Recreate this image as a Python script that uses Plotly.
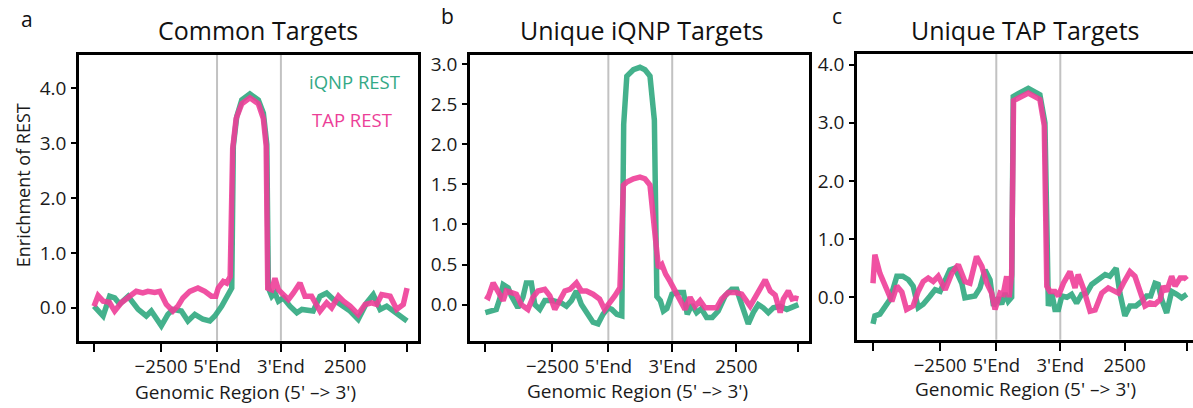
import plotly.graph_objects as go

W, H = 1193, 408

# ---------------- data ----------------
tick_vals = [0, 21.4, 39.3, 59.7, 80.2, 100]
tick_text = ["", "−2500", "5'End", "3'End", "2500", ""]
gene_bounds = [39.3, 59.7]
series_names = ["iQNP REST", "TAP REST"]
panel_titles = ["Common Targets", "Unique iQNP Targets", "Unique TAP Targets"]
panel_letters = ["a", "b", "c"]
x_title = "Genomic Region (5' –> 3')"
y_title = "Enrichment of REST"

a_x_iqnp = [0, 2.9, 5.0, 6.6, 8.2, 10.9, 14.1, 16.7, 18.3, 21.5, 23.6, 25.2, 27.9, 30.0, 32.2, 34.8,
            37.0, 38.6, 40.8, 42.4, 44.0, 44.5, 45.6, 47.2, 49.8, 52.5, 54.1, 55.2, 55.7, 56.8, 57.8,
            58.9, 60.5, 62.6, 64.8, 66.4, 68.5, 70.0, 72.2, 74.3, 76.5, 79.1, 81.8, 84.4, 87.1, 89.2,
            91.4, 93.5, 95.6, 97.8, 100]
a_y_iqnp = [0.03, -0.15, 0.21, 0.18, 0.07, 0.21, -0.03, -0.15, -0.06, -0.33, -0.12, -0.03, -0.06, -0.24,
            -0.12, -0.21, -0.24, -0.15, 0.03, 0.21, 0.36, 2.95, 3.49, 3.79, 3.9, 3.79, 3.55, 2.98, 0.36,
            0.21, 0.27, 0.12, 0.18, 0.03, -0.09, -0.03, -0.06, -0.06, 0.21, 0.27, 0.15, 0.06, -0.06,
            -0.21, 0.09, 0.24, -0.03, 0.03, -0.06, -0.15, -0.24]
a_x_tap = [0, 1.3, 2.9, 4.9, 6.6, 8.7, 11.4, 13.5, 15.6, 17.2, 19.4, 21.0, 23.1, 25.2, 26.8, 28.4, 30.6,
           33.2, 35.4, 37.5, 38.9, 39.7, 41.3, 42.4, 43.5, 44.3, 45.4, 47.2, 49.8, 52.5, 54.1, 55.0,
           55.5, 56.8, 57.8, 58.9, 60.5, 62.1, 63.7, 65.8, 67.4, 69.5, 72.2, 74.3, 75.9, 78.1, 79.7,
           81.8, 84.4, 86.6, 88.7, 90.3, 91.9, 94.6, 96.7, 98.8, 100]
a_y_tap = [0.03, 0.22, 0.12, 0.1, -0.06, 0.09, 0.21, 0.3, 0.27, 0.3, 0.28, 0.3, 0.06, -0.06, 0.03, 0.18,
           0.3, 0.36, 0.3, 0.21, 0.21, 0.36, 0.48, 0.45, 0.57, 2.9, 3.45, 3.72, 3.83, 3.72, 3.45, 2.95,
           0.36, 0.33, 0.54, 0.33, 0.24, 0.15, 0.27, 0.45, 0.21, 0.21, -0.06, 0.09, 0.0, 0.21, 0.12,
           0.03, -0.12, 0.06, 0.09, 0.06, 0.24, 0.21, -0.03, 0.06, 0.36]

b_x_iqnp = [0, 1.9, 3.5, 4.6, 5.7, 7.3, 8.3, 10.4, 12.0, 13.1, 14.7, 15.8, 17.4, 19.0, 21.5, 24.3, 25.9,
            27.5, 29.1, 30.7, 32.8, 34.4, 36.0, 37.6, 39.2, 40.4, 42.0, 43.6, 44.2, 45.2, 47.3, 49.4,
            51.0, 52.6, 54.0, 54.8, 55.9, 56.9, 58.0, 59.6, 61.5, 63.3, 64.5, 66.0, 67.5, 69.0, 70.7,
            72.5, 74.4, 76.6, 78.7, 80.3, 81.9, 84.0, 85.6, 87.2, 88.8, 90.4, 92.0, 94.2, 96.3, 97.9, 100]
b_y_iqnp = [-0.1, -0.08, -0.06, 0.07, 0.25, 0.21, 0.11, -0.04, 0.09, 0.27, 0.27, 0.0, -0.06, 0.05, 0.05,
            0.02, -0.02, 0.05, 0.17, 0.0, -0.14, -0.22, -0.24, -0.12, -0.04, -0.06, -0.12, -0.14, 2.25,
            2.85, 2.93, 2.96, 2.93, 2.85, 2.3, 0.1, 0.05, -0.08, -0.05, 0.13, 0.15, 0.15, -0.12, 0.0,
            -0.1, -0.05, -0.16, -0.16, -0.08, 0.11, 0.19, 0.19, 0.0, -0.24, -0.1, 0.0, -0.04, -0.1,
            -0.04, -0.02, -0.06, -0.04, 0.0]
b_x_tap = [0, 0.9, 2.5, 4.1, 5.7, 6.7, 8.3, 9.9, 11.5, 13.6, 15.2, 16.8, 19.0, 20.6, 22.2, 23.8, 25.4,
           27.0, 29.1, 30.7, 32.3, 34.4, 36.5, 38.1, 39.8, 41.4, 43.0, 44.1, 45.2, 47.3, 49.4, 51.0,
           52.6, 54.2, 55.3, 56.4, 57.6, 59.0, 60.6, 62.2, 63.8, 65.4, 67.0, 68.6, 70.2, 72.0, 73.9,
           75.5, 77.6, 80.0, 81.9, 84.6, 86.2, 87.8, 89.4, 91.0, 92.6, 94.2, 95.2, 96.8, 98.0, 99.0, 100]
b_y_tap = [0.11, 0.09, 0.27, 0.17, 0.05, 0.17, 0.15, 0.13, 0.0, -0.06, 0.09, 0.17, 0.19, 0.11, -0.06,
           0.07, 0.17, 0.19, 0.27, 0.17, 0.17, 0.13, 0.07, -0.06, 0.02, 0.11, 0.21, 1.49, 1.53, 1.57,
           1.59, 1.57, 1.49, 0.79, 0.46, 0.5, 0.38, 0.29, 0.17, 0.05, -0.06, 0.09, -0.02, 0.05, -0.04,
           -0.04, -0.04, 0.07, 0.15, 0.15, 0.13, -0.02, 0.09, 0.17, 0.31, 0.17, 0.12, -0.1, 0.07, 0.17,
           0.07, 0.08, 0.07]

c_x_iqnp = [0, 0.6, 2.2, 3.8, 5.4, 7.6, 9.5, 11.3, 12.8, 14.4, 16.0, 18.2, 19.8, 21.4, 23.0, 24.5, 26.1,
            28.3, 29.3, 30.9, 32.5, 34.1, 35.7, 37.3, 38.4, 39.9, 41.0, 42.1, 43.1, 44.2, 44.7, 46.3,
            49.5, 53.2, 54.8, 55.9, 57.0, 58.0, 59.1, 60.2, 61.8, 63.3, 64.9, 66.5, 68.1, 69.7, 71.8,
            74.0, 75.5, 77.5, 78.7, 80.3, 81.9, 83.8, 85.7, 87.2, 88.5, 89.9, 90.9, 92.0, 93.6, 95.2,
            96.8, 98.4, 100]
c_y_iqnp = [-0.46, -0.32, -0.29, -0.15, -0.04, 0.36, 0.36, 0.3, 0.19, -0.18, -0.12, 0.02, 0.13, 0.1,
            0.27, 0.47, 0.5, 0.24, -0.01, 0.0, 0.02, 0.16, 0.47, 0.3, -0.15, -0.01, -0.12, 0.07, -0.07,
            0.0, 3.45, 3.5, 3.59, 3.48, 3.0, -0.15, 0.07, -0.21, -0.21, 0.02, 0.0, 0.05, -0.1, 0.05,
            0.07, 0.22, 0.3, 0.39, 0.36, 0.5, 0.07, -0.32, -0.15, -0.15, -0.07, 0.02, 0.02, 0.24, 0.22,
            -0.04, -0.27, 0.1, 0.05, -0.01, 0.05]
c_x_tap = [0, 0.6, 2.2, 3.8, 6.0, 7.6, 9.2, 10.7, 12.8, 14.4, 16.0, 17.6, 19.2, 20.8, 23.0, 25.1, 27.2,
           29.3, 30.9, 33.0, 34.7, 36.3, 37.8, 38.9, 40.5, 41.5, 42.6, 43.4, 44.2, 44.8, 46.3, 49.5,
           53.2, 54.6, 55.4, 56.4, 58.0, 59.1, 60.7, 62.8, 64.4, 65.4, 67.0, 69.2, 70.8, 72.9, 75.0,
           76.6, 78.2, 79.8, 81.9, 83.5, 85.1, 86.7, 88.3, 89.9, 91.5, 92.5, 93.6, 95.2, 96.3, 97.9,
           99.5, 100]
c_y_tap = [0.24, 0.73, 0.41, 0.22, -0.07, 0.19, 0.09, -0.21, -0.15, 0.1, 0.27, 0.33, 0.27, 0.36, 0.13,
           0.41, 0.56, 0.27, 0.24, 0.7, 0.53, 0.24, 0.07, -0.21, 0.07, 0.05, 0.36, 0.0, 0.39, 3.38,
           3.43, 3.51, 3.4, 2.95, 0.19, 0.1, 0.1, 0.02, 0.24, 0.44, 0.16, 0.39, 0.16, -0.24, -0.22,
           0.07, 0.16, 0.12, 0.07, 0.24, 0.44, 0.36, 0.1, -0.15, -0.1, -0.12, -0.04, 0.19, 0.1, 0.36,
           0.19, 0.33, 0.33, 0.3]

a_yticks = [0, 1, 2, 3, 4]
b_yticks = [0, 0.5, 1, 1.5, 2, 2.5, 3]
c_yticks = [0, 1, 2, 3, 4]

# ---------------- styling ----------------
FONT = "Open Sans"
GREEN = "rgba(48,168,128,0.9)"
PINK = "rgba(238,62,152,0.9)"
GREEN_TXT = "#34a986"
PINK_TXT = "#ec3f98"
GREY = "#c2c2c2"
TXT = "#1a1a1a"

def px_x(p):
    return p / W

def px_y(p):
    return 1 - p / H

panels = [
    dict(x=(a_x_iqnp, a_x_tap), y=(a_y_iqnp, a_y_tap), yticks=a_yticks,
         xdom=(79, 418), ydom=(51, 340), xr=[-4.8, 103.5], yr=[-0.6, 4.62], mirror_y=True,
         title_x=258, title_y=26, letter=(27, 15), xt=(245, 392)),
    dict(x=(b_x_iqnp, b_x_tap), y=(b_y_iqnp, b_y_tap), yticks=b_yticks,
         xdom=(470, 809), ydom=(51, 340), xr=[-4.9, 103.4], yr=[-0.45, 3.12], mirror_y=True,
         title_x=641, title_y=26, letter=(447, 12), xt=(637, 391)),
    dict(x=(c_x_iqnp, c_x_tap), y=(c_y_iqnp, c_y_tap), yticks=c_yticks,
         xdom=(857, 1193), ydom=(50, 339), xr=[-5.1, 102.0], yr=[-0.73, 4.19], mirror_y=False,
         title_x=1025, title_y=26, letter=(837, 12), xt=(1025, 389)),
]

fig = go.Figure()
layout = dict(
    width=W, height=H,
    margin=dict(l=0, r=0, t=0, b=0),
    paper_bgcolor="white", plot_bgcolor="white",
    showlegend=False,
    font=dict(family=FONT, color=TXT),
)
annotations = []
shapes = []

for i, p in enumerate(panels):
    n = "" if i == 0 else str(i + 1)
    xa, ya = "x" + n, "y" + n
    for xs, ys, col, name in [(p["x"][0], p["y"][0], GREEN, series_names[0]),
                              (p["x"][1], p["y"][1], PINK, series_names[1])]:
        fig.add_trace(go.Scatter(x=xs, y=ys, mode="lines", name=name, xaxis=xa, yaxis=ya,
                                 line=dict(color=col, width=5.5), hoverinfo="skip"))
    layout["xaxis" + n] = dict(
        domain=[px_x(p["xdom"][0]), px_x(p["xdom"][1])], range=p["xr"], anchor=ya,
        tickmode="array", tickvals=tick_vals, ticktext=tick_text,
        ticks="outside", ticklen=9, tickwidth=2, tickcolor="black",
        showline=True, linecolor="black", linewidth=2.5, mirror=True,
        showgrid=False, zeroline=False, fixedrange=True,
        tickfont=dict(family=FONT, size=18.5, color=TXT), ticklabelstandoff=-2,
    )
    layout["yaxis" + n] = dict(
        domain=[px_y(p["ydom"][1]), px_y(p["ydom"][0])], range=p["yr"], anchor=xa,
        tickmode="array", tickvals=p["yticks"], tickformat=".1f",
        ticks="outside", ticklen=5, tickwidth=2, tickcolor="black",
        showline=True, linecolor="black", linewidth=2.5, mirror=p["mirror_y"],
        showgrid=False, zeroline=False, fixedrange=True,
        tickfont=dict(family=FONT, size=19, color=TXT), ticklabelstandoff=1,
    )
    for gx in gene_bounds:
        shapes.append(dict(type="line", xref=xa, yref=ya + " domain", x0=gx, x1=gx, y0=0, y1=1,
                           line=dict(color=GREY, width=2), layer="below"))
    annotations.append(dict(text=panel_titles[i], xref="paper", yref="paper",
                            x=px_x(p["title_x"]), y=px_y(p["title_y"]), xanchor="center",
                            yanchor="middle", showarrow=False,
                            font=dict(family=FONT, size=25, color="#111111")))
    annotations.append(dict(text=panel_letters[i], xref="paper", yref="paper",
                            x=px_x(p["letter"][0]), y=px_y(p["letter"][1]), xanchor="center",
                            yanchor="middle", showarrow=False,
                            font=dict(family=FONT, size=21, color="#111111")))
    annotations.append(dict(text=x_title, xref="paper", yref="paper",
                            x=px_x(p["xt"][0]), y=px_y(p["xt"][1]), xanchor="center",
                            yanchor="middle", showarrow=False,
                            font=dict(family=FONT, size=19, color=TXT)))

annotations.append(dict(text=y_title, xref="paper", yref="paper",
                        x=px_x(23), y=px_y(183), xanchor="center", yanchor="middle",
                        textangle=-90, showarrow=False,
                        font=dict(family=FONT, size=18, color=TXT)))
annotations.append(dict(text=series_names[0], xref="paper", yref="paper",
                        x=px_x(307), y=px_y(78), xanchor="left", yanchor="middle",
                        showarrow=False, font=dict(family=FONT, size=18.5, color=GREEN_TXT)))
annotations.append(dict(text=series_names[1], xref="paper", yref="paper",
                        x=px_x(310), y=px_y(117), xanchor="left", yanchor="middle",
                        showarrow=False, font=dict(family=FONT, size=18.5, color=PINK_TXT)))

layout["annotations"] = annotations
layout["shapes"] = shapes
fig.update_layout(**layout)
fig.write_html("out.html", config={"displayModeBar": False},
               post_script="document.body.style.margin='0';document.body.style.overflow='hidden';")
